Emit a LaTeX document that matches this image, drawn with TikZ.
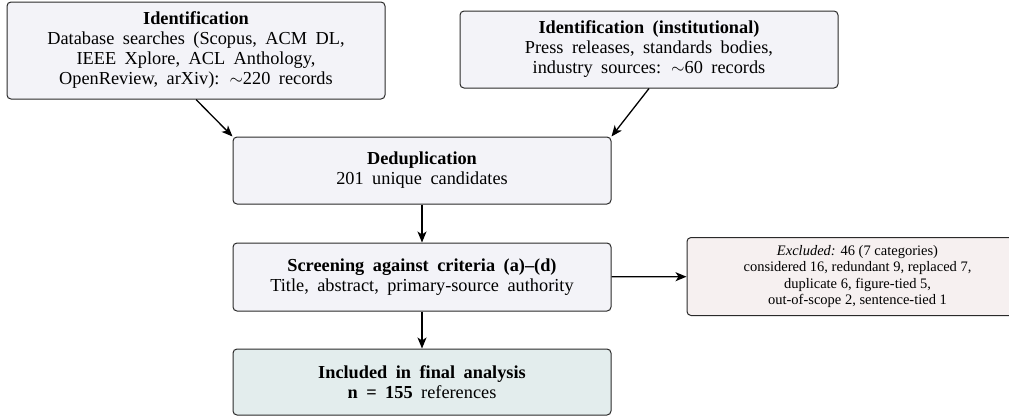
\documentclass[tikz,border=0pt]{standalone}
\usepackage{fontspec}
\setmainfont{Liberation Serif}
\usetikzlibrary{arrows.meta}
\definecolor{boxfill}{HTML}{F3F3F8}
\definecolor{incfill}{HTML}{E3EDED}
\definecolor{excfill}{HTML}{F6F0F0}
\definecolor{edge}{HTML}{2A2A2A}
\newcommand{\mybigfont}{\fontsize{18.3}{20}\selectfont\spaceskip=8.5pt plus 2pt minus 1pt\relax}
\newcommand{\mysmallfont}{\fontsize{14.5}{16.5}\selectfont\spaceskip=0pt\relax}
\tikzset{
  mainbox/.style={draw=edge, line width=1pt, rounded corners=4pt, fill=boxfill,
    align=center, inner sep=0pt, minimum width=378pt, font=\mybigfont},
  excbox/.style={draw=edge, line width=1pt, rounded corners=4pt, fill=excfill,
    align=center, inner sep=0pt, minimum width=341pt, minimum height=78pt,
    font=\mysmallfont},
  flow/.style={draw=black, line width=1.3pt, -{Stealth[length=11pt,width=9pt,inset=3pt]}}
}
\begin{document}
\begin{tikzpicture}[x=1pt,y=-1pt]
\useasboundingbox (0,0) rectangle (1009,416);
\clip (0,0) rectangle (1009,416);
\node[mainbox, minimum height=97pt] (id1) at (196,50.5)
  {\textbf{Identification}\\Database searches (Scopus, ACM DL,\\IEEE Xplore, ACL Anthology,\\OpenReview, arXiv): $\sim$220 records};
\node[mainbox, minimum height=77pt] (id2) at (649,49.5)
  {\textbf{Identification (institutional)}\\Press releases, standards bodies,\\industry sources: $\sim$60 records};
\node[mainbox, minimum height=67pt] (dedup) at (422,170.5)
  {\textbf{Deduplication}\\201 unique candidates};
\node[mainbox, minimum height=68pt] (screen) at (422,277)
  {\textbf{Screening against criteria (a)--(d)}\\Title, abstract, primary-source authority};
\node[mainbox, fill=incfill, minimum height=66pt] (incl) at (422,382)
  {\textbf{Included in final analysis}\\\textbf{n = 155} references};
\node[excbox] (excl) at (857.5,276.5)
  {\textit{Excluded:} 46 (7 categories)\\considered 16, redundant 9, replaced 7,\\duplicate 6, figure-tied 5,\\out-of-scope 2, sentence-tied 1};
\draw[flow] (id1.south) -- (dedup.north west);
\draw[flow] (id2.south) -- (dedup.north east);
\draw[flow] (dedup) -- (screen);
\draw[flow] (screen) -- (incl);
\draw[flow] (screen) -- (excl);
\end{tikzpicture}
\end{document}
